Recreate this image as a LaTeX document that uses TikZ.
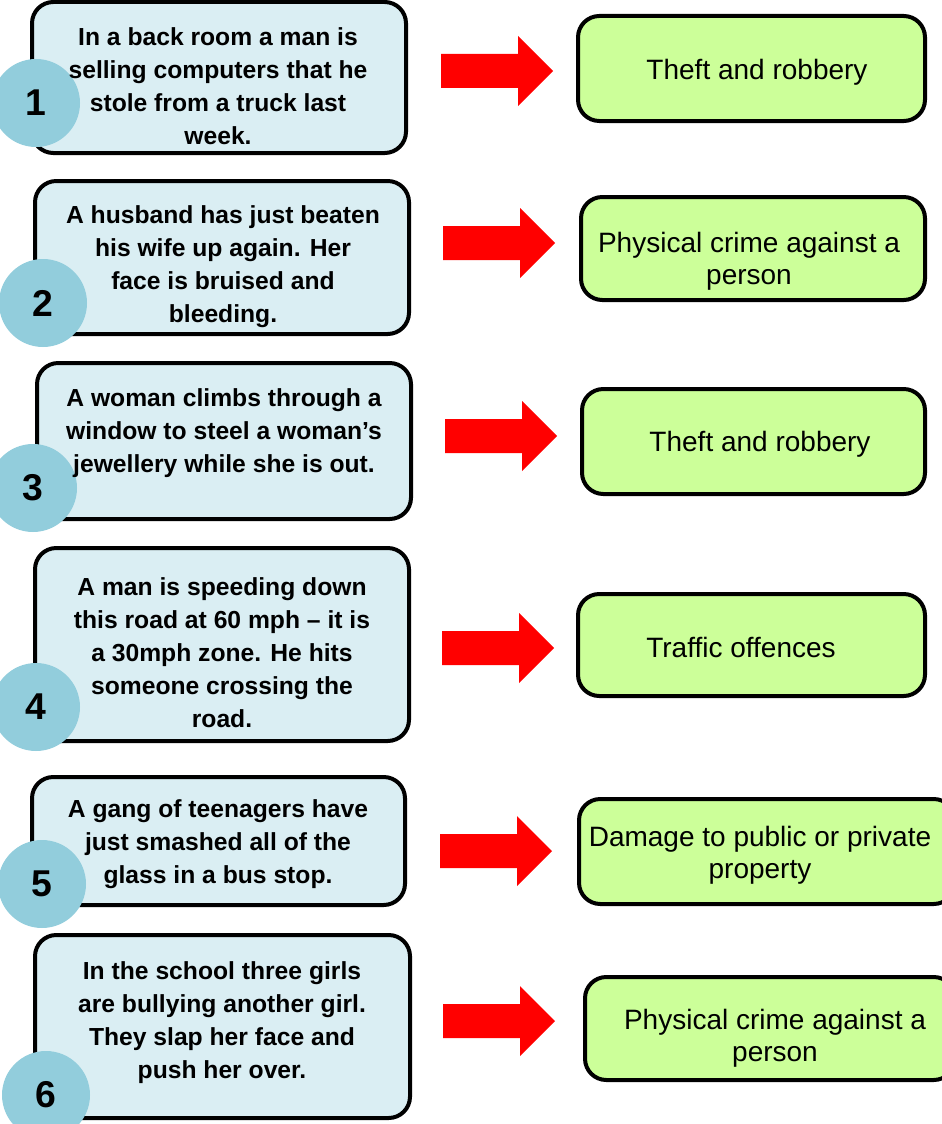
\documentclass[tikz,border=0pt]{standalone}
\usepackage{fontspec}
\setmainfont{Liberation Sans}
\usetikzlibrary{fit}
\definecolor{lblue}{HTML}{DAEEF3}
\definecolor{cblue}{HTML}{92CDDC}
\definecolor{lgreen}{HTML}{CCFF99}
\tikzset{
 lbox/.style={draw=black, line width=3pt, fill=lblue, rounded corners=16pt, inner sep=0pt},
 rbox/.style={draw=black, line width=3pt, fill=lgreen, rounded corners=16pt, inner sep=0pt},
 num/.style={circle, fill=cblue, minimum size=66pt, inner sep=0pt, font=\fontsize{28}{28}\selectfont\bfseries},
 ltext/.style={align=center, font=\fontsize{18.5}{24.75}\selectfont\bfseries, inner sep=0pt},
 rtext/.style={align=center, font=\fontsize{21}{24}\selectfont, inner sep=0pt},
 arr/.style={fill=red}
}
\newcommand\redarrow[3]{\fill[arr] (#1,#2) coordinate (#3) ++(0,-17) -- ++(77,0) -- ++(0,-18) -- ++(35,35) -- ++(-35,35) -- ++(0,-18) -- ++(-77,0) -- cycle;}
\begin{document}
\begin{tikzpicture}[x=0.75pt,y=-0.75pt]
\useasboundingbox (0,0) rectangle (942,1124);
% row 1
\node[lbox, fit={(32,2)(406,153)}] (b1) {};
\node[num] (c1) at (36,103) {1};
\node[ltext] (t1) at (218,86) {In a back room a man is\\selling computers that he\\stole from a truck last\\week.};
\redarrow{441}{71}{a1}
\node[rbox, fit={(578,16)(925,121)}] (r1) {};
\node[rtext] (s1) at (757,72) {Theft and robbery};
% row 2
\node[lbox, fit={(35,181)(409,334)}] (b2) {};
\node[num] (c2) at (43,303) {2};
\node[ltext] (t2) at (223,267) {A husband has just beaten\\his wife up again. Her\\face is bruised and\\bleeding.};
\redarrow{443}{243}{a2}
\node[rbox, fit={(581,197)(925,300)}] (r2) {};
\node[rtext] (s2) at (749,261) {Physical crime against a\\person};
% row 3
\node[lbox, fit={(37,363)(411,519)}] (b3) {};
\node[num] (c3) at (33,488) {3};
\node[ltext] (t3) at (224,433) {A woman climbs through a\\window to steel a woman’s\\jewellery while she is out.};
\redarrow{445}{436}{a3}
\node[rbox, fit={(582,389)(925,494)}] (r3) {};
\node[rtext] (s3) at (760,444) {Theft and robbery};
% row 4
\node[lbox, fit={(35,548)(409,741)}] (b4) {};
\node[num] (c4) at (36,707) {4};
\node[ltext] (t4) at (222,653) {A man is speeding down\\this road at 60 mph – it is\\a 30mph zone. He hits\\someone crossing the\\road.};
\redarrow{442}{648}{a4}
\node[rbox, fit={(578,594)(925,696)}] (r4) {};
\node[rtext] (s4) at (741,647) {Traffic offences};
% row 5
\node[lbox, fit={(32,777)(405,905)}] (b5) {};
\node[num] (c5) at (42,884) {5};
\node[ltext] (t5) at (218,844) {A gang of teenagers have\\just smashed all of the\\glass in a bus stop.};
\redarrow{440}{851}{a5}
\node[rbox, fit={(579,799)(955,904)}] (r5) {};
\node[rtext] (s5) at (760,855) {Damage to public or private\\property};
% row 6
\node[lbox, fit={(35,935)(410,1118)}] (b6) {};
\node[num] (c6) at (46,1095) {6};
\node[ltext] (t6) at (222,1023) {In the school three girls\\are bullying another girl.\\They slap her face and\\push her over.};
\redarrow{443}{1021}{a6}
\node[rbox, fit={(585,977)(955,1080)}] (r6) {};
\node[rtext] (s6) at (775,1038) {Physical crime against a\\person};
\end{tikzpicture}
\end{document}
